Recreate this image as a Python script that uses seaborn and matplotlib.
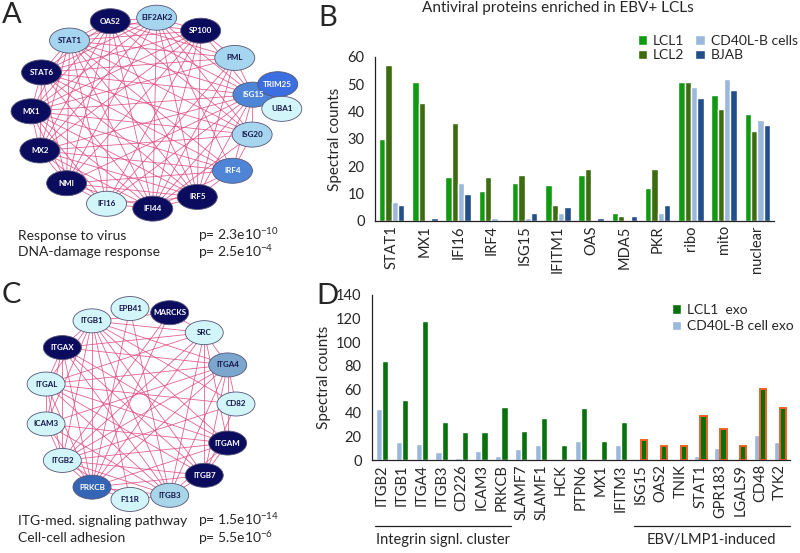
import numpy as np
import pandas as pd
import seaborn as sns
import matplotlib.pyplot as plt
from matplotlib.patches import Ellipse, Patch
from matplotlib.collections import LineCollection
import matplotlib.transforms as mtransforms

# ---- Panel A network: ring order (clockwise from top) and node class
a_nodes = ["OAS2", "EIF2AK2", "SP100", "PML", "ISG15", "ISG20", "IRF4", "IRF5",
           "IFI44", "IFI16", "NMI", "MX2", "MX1", "STAT6", "STAT1"]
a_class = ["dark", "light", "dark", "light", "mid", "light", "mid", "dark",
           "dark", "pale", "dark", "dark", "dark", "dark", "light"]
a_outer = ["TRIM25", "UBA1"]
a_outer_class = ["mid2", "pale"]
a_edges = {
    "OAS2": ["EIF2AK2", "STAT1", "STAT6", "MX1", "MX2", "NMI", "IFI16", "IFI44", "IRF5", "ISG15", "ISG20", "SP100", "PML"],
    "EIF2AK2": ["STAT1", "STAT6", "MX1", "MX2", "IFI44", "IRF5", "ISG15", "ISG20", "IRF4", "SP100", "NMI"],
    "SP100": ["STAT1", "STAT6", "MX1", "MX2", "IFI44", "IRF5", "IFI16", "PML", "ISG15", "NMI"],
    "PML": ["STAT1", "MX1", "ISG15", "IFI16", "IFI44", "STAT6", "IRF5"],
    "ISG15": ["STAT1", "STAT6", "MX1", "MX2", "NMI", "IFI44", "IRF5", "IRF4", "ISG20", "TRIM25", "UBA1", "IFI16"],
    "ISG20": ["STAT1", "MX1", "MX2", "IFI44", "IRF4", "STAT6"],
    "IRF4": ["STAT1", "STAT6", "MX1", "MX2", "IRF5", "IFI44", "NMI"],
    "IRF5": ["STAT1", "STAT6", "MX1", "MX2", "IFI44", "NMI", "IFI16"],
    "IFI44": ["STAT1", "STAT6", "MX1", "MX2", "NMI", "IFI16"],
    "IFI16": ["STAT1", "MX1", "NMI", "MX2"],
    "NMI": ["STAT1", "STAT6", "MX1", "MX2"],
    "MX2": ["STAT1", "STAT6", "MX1"],
    "MX1": ["STAT1", "STAT6"],
    "STAT6": ["STAT1"],
}

# ---- Panel C network
c_nodes = ["EPB41", "MARCKS", "SRC", "ITGA4", "CD82", "ITGAM", "ITGB7", "ITGB3",
           "F11R", "PRKCB", "ITGB2", "ICAM3", "ITGAL", "ITGAX", "ITGB1"]
c_class = ["pale", "dark", "pale", "steel", "pale", "dark", "dark", "light2",
           "pale", "mid3", "pale", "pale", "pale", "dark", "pale"]
c_edges = {
    "ITGB1": ["ITGAX", "ITGAL", "ICAM3", "ITGB2", "PRKCB", "ITGB3", "ITGB7", "ITGAM", "CD82", "ITGA4", "SRC", "F11R", "MARCKS"],
    "ITGAX": ["ITGB2", "ICAM3", "ITGAL", "PRKCB", "ITGB3", "ITGB7", "ITGAM", "ITGA4", "SRC"],
    "ITGAL": ["ICAM3", "ITGB2", "PRKCB", "ITGB3", "ITGB7", "ITGA4", "CD82", "ITGAM", "SRC"],
    "ICAM3": ["ITGB2", "PRKCB", "ITGB3", "ITGAM", "ITGA4"],
    "ITGB2": ["PRKCB", "F11R", "ITGB3", "ITGB7", "ITGAM", "ITGA4", "SRC", "CD82", "MARCKS"],
    "PRKCB": ["F11R", "ITGB3", "ITGB7", "ITGAM", "ITGA4", "SRC", "MARCKS", "EPB41"],
    "F11R": ["ITGB3"],
    "ITGB3": ["ITGB7", "ITGAM", "ITGA4", "SRC", "EPB41"],
    "ITGB7": ["ITGAM", "ITGA4", "SRC", "CD82"],
    "ITGAM": ["ITGA4", "SRC"],
    "ITGA4": ["SRC", "CD82"],
    "SRC": ["MARCKS"],
}

# ---- Panel B bars
b_proteins = ["STAT1", "MX1", "IFI16", "IRF4", "ISG15", "IFITM1", "OAS", "MDA5",
              "PKR", "ribo", "mito", "nuclear"]
b_lcl1 = [30, 51, 16, 11, 14, 13, 17, 3, 12, 51, 46, 39]
b_lcl2 = [57, 43, 36, 16, 17, 6, 19, 2, 19, 51, 41, 33]
b_cd40 = [7, 0, 14, 1, 1, 3, 0, 0, 3, 49, 52, 37]
b_bjab = [6, 1, 10, 0, 3, 5, 1, 2, 6, 45, 48, 35]
b_lines = ["LCL1", "LCL2", "CD40L-B cells", "BJAB"]

# ---- Panel D bars
d_proteins = ["ITGB2", "ITGB1", "ITGA4", "ITGB3", "CD226", "ICAM3", "PRKCB",
              "SLAMF7", "SLAMF1", "HCK", "PTPN6", "MX1", "IFITM3",
              "ISG15", "OAS2", "TNIK", "STAT1", "GPR183", "LGALS9", "CD48", "TYK2"]
d_lcl1 = [84, 51, 118, 32, 24, 24, 45, 25, 36, 13, 44, 16, 32,
          17, 12, 12, 37, 26, 12, 60, 44]
d_cd40 = [43, 15, 14, 7, 2, 8, 3, 9, 13, 0, 16, 0, 13,
          1, 0, 0, 3, 10, 0, 21, 15]
d_integrin = ["ITGB2", "ITGB1", "ITGA4", "ITGB3", "CD226", "ICAM3", "PRKCB"]
d_ebv = ["ISG15", "OAS2", "TNIK", "STAT1", "GPR183", "LGALS9", "CD48", "TYK2"]

sns.set_style("white")
plt.rcParams["font.family"] = ["Lato", "DejaVu Sans"]
plt.rcParams["mathtext.fontset"] = "custom"
plt.rcParams["mathtext.rm"] = "Lato"
plt.rcParams["mathtext.it"] = "Lato"

node_colors = {"dark": "#0c0c5e", "light": "#a6d6ef", "pale": "#d2f5fa",
               "mid": "#4f85d6", "mid2": "#3b6ee0", "steel": "#7da6cf",
               "light2": "#a8d5e8", "mid3": "#3565b5"}
text_colors = {"dark": "white", "mid": "white", "mid2": "white", "mid3": "white",
               "light": "#15154a", "pale": "#15154a", "steel": "#15154a", "light2": "#15154a"}
edge_col = "#e0467f"

fig = plt.figure(figsize=(8, 5.53), dpi=100)

# pixel-space canvas for networks and labels
canvas = fig.add_axes([0, 0, 1, 1])
canvas.set_xlim(0, 800)
canvas.set_ylim(553, 0)
canvas.axis("off")


def draw_network(ax, ring, classes, edges, cx, cy, rx, ry, start, outer=(), outer_cls=(),
                 outer_ang=(), outer_r=1.0, w=40, h=25):
    pos = {}
    step = 360 / len(ring)
    for i, n in enumerate(ring):
        a = np.radians(start + i * step)
        pos[n] = (cx + rx * np.sin(a), cy - ry * np.cos(a))
    for n, a in zip(outer, outer_ang):
        a = np.radians(a)
        pos[n] = (cx + rx * outer_r * np.sin(a), cy - ry * outer_r * np.cos(a))
    segs = [[pos[s], pos[t]] for s, ts in edges.items() for t in ts]
    ax.add_collection(LineCollection(segs, colors=edge_col, linewidths=0.6, alpha=0.85, zorder=1))
    for n, c in list(zip(ring, classes)) + list(zip(outer, outer_cls)):
        x, y = pos[n]
        ax.add_patch(Ellipse((x, y), w, h, facecolor=node_colors[c], edgecolor="#555577",
                             linewidth=0.6, zorder=2))
        ax.text(x, y, n, ha="center", va="center", fontsize=5.8, fontweight="bold",
                color=text_colors[c], zorder=3)


draw_network(canvas, a_nodes, a_class, a_edges, 143, 113, 112, 96, -17,
             outer=a_outer, outer_cls=a_outer_class, outer_ang=(76, 88), outer_r=1.24)
draw_network(canvas, c_nodes, c_class, c_edges, 140, 404, 96, 96, -6, w=38, h=24)

# panel letters and annotations
for lbl, x, y in [("A", 2, 15), ("B", 318, 18), ("C", 2, 295), ("D", 316, 296)]:
    canvas.text(x, y, lbl, fontsize=21, ha="left", va="center")
ann = 10
canvas.text(18, 236, "Response to virus", fontsize=ann, va="center")
canvas.text(18, 252, "DNA-damage response", fontsize=ann, va="center")
canvas.text(198, 235, r"p= 2.3e10$^{-10}$", fontsize=ann, va="center")
canvas.text(198, 252, r"p= 2.5e10$^{-4}$", fontsize=ann, va="center")
canvas.text(18, 521, "ITG-med. signaling pathway", fontsize=ann, va="center")
canvas.text(18, 538, "Cell-cell adhesion", fontsize=ann, va="center")
canvas.text(198, 520, r"p= 1.5e10$^{-14}$", fontsize=ann, va="center")
canvas.text(198, 538, r"p= 5.5e10$^{-6}$", fontsize=ann, va="center")
canvas.text(558, 8, "Antiviral proteins enriched in EBV+ LCLs", fontsize=11,
            ha="center", va="center")


def style_axes(ax, n, ymax, ystep):
    sns.despine(ax=ax)
    ax.set_xlim(-0.5, n - 0.5)
    ax.set_ylim(0, ymax)
    ax.set_yticks(np.arange(0, ymax + 1, ystep))
    ax.set_xticks(np.arange(-0.5, n, 1), minor=True)
    ax.tick_params(axis="x", which="major", length=0, labelrotation=90, labelsize=10.5, pad=3)
    ax.tick_params(axis="x", which="minor", length=4, width=0.8, direction="out", color="#222222")
    ax.tick_params(axis="y", length=4, width=0.8, direction="out", labelsize=10.5, color="#222222")
    for s in ["left", "bottom"]:
        ax.spines[s].set_linewidth(0.9)
        ax.spines[s].set_color("#222222")
    ax.set_xlabel("")
    ax.set_ylabel("Spectral counts", fontsize=11)


# ---- Panel B
ax_b = fig.add_axes([375 / 800, 1 - 221 / 553, 399 / 800, 164 / 553])
df_b = pd.DataFrame({"protein": b_proteins * 4,
                     "line": np.repeat(b_lines, len(b_proteins)),
                     "count": b_lcl1 + b_lcl2 + b_cd40 + b_bjab})
b_pal = ["#109a10", "#3d6b10", "#9ab8dc", "#224e8a"]
sns.barplot(data=df_b, x="protein", y="count", hue="line", hue_order=b_lines,
            palette=b_pal, width=0.76, saturation=1, ax=ax_b, legend=False)
style_axes(ax_b, len(b_proteins), 60, 10)
handles = [Patch(facecolor=c, label=l) for c, l in zip(b_pal, b_lines)]
fig.legend(handles=handles, loc="upper left", bbox_to_anchor=(632 / 800, 1 - 29 / 553),
           ncol=2, frameon=False, fontsize=10, handlelength=0.7, handleheight=0.7,
           handletextpad=0.4, columnspacing=0.8, labelspacing=0.2, borderaxespad=0)

# ---- Panel D
ax_d = fig.add_axes([372 / 800, 1 - 460 / 553, 418 / 800, 165 / 553])
d_series = ["CD40L-B cell exo", "LCL1  exo"]
df_d = pd.DataFrame({"protein": d_proteins * 2,
                     "line": np.repeat(d_series, len(d_proteins)),
                     "count": d_cd40 + d_lcl1})
d_pal = ["#9ab8dc", "#08700c"]
sns.barplot(data=df_d, x="protein", y="count", hue="line", hue_order=d_series,
            palette=d_pal, width=0.62, saturation=1, ax=ax_d, legend=False)
style_axes(ax_d, len(d_proteins), 140, 20)
# orange outline on EBV/LMP1-induced LCL1 bars
for name, bar in zip(d_proteins, ax_d.containers[1]):
    if name in d_ebv:
        bar.set_edgecolor("#f0602a")
        bar.set_linewidth(1.4)
handles = [Patch(facecolor=d_pal[1], label=d_series[1]),
           Patch(facecolor=d_pal[0], label=d_series[0])]
fig.legend(handles=handles, loc="upper left", bbox_to_anchor=(666 / 800, 1 - 298 / 553),
           frameon=False, fontsize=10, handlelength=0.7, handleheight=0.7,
           handletextpad=0.4, labelspacing=0.35, borderaxespad=0)

# group brackets below D tick labels
trans = mtransforms.blended_transform_factory(ax_d.transData, ax_d.transAxes)
for group, label in [(d_integrin, "Integrin signl. cluster"), (d_ebv, "EBV/LMP1-induced")]:
    i0 = d_proteins.index(group[0]) - 0.35
    i1 = d_proteins.index(group[-1]) + 0.5
    ax_d.plot([i0, i1], [-0.4, -0.4], transform=trans, color="#222222", lw=0.9, clip_on=False)
    ax_d.text((i0 + i1) / 2, -0.485, label, transform=trans, ha="center", va="center",
              fontsize=10.5)

fig.savefig("out.png", dpi=100)
